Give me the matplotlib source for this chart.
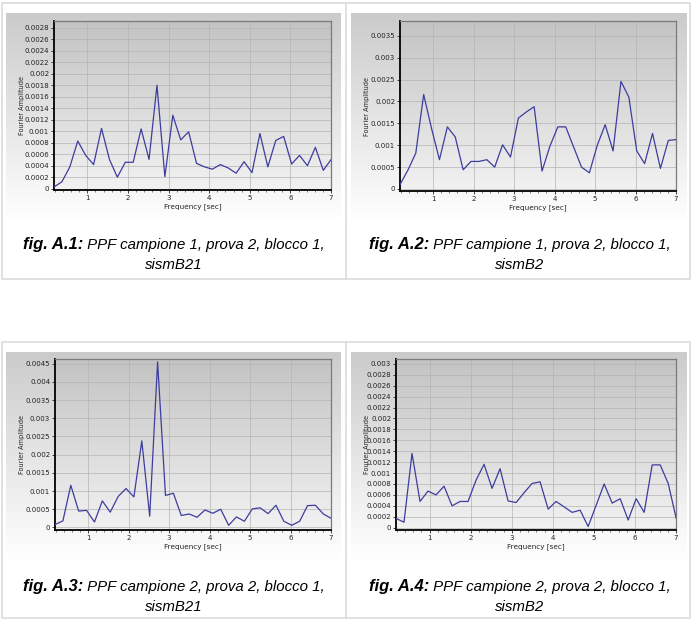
import matplotlib
matplotlib.use("Agg")
import matplotlib.pyplot as plt
import numpy as np
from matplotlib.ticker import FixedLocator, MultipleLocator
from matplotlib.patches import Rectangle
from matplotlib.lines import Line2D

# ---------------- data ----------------
freq = [0.18, 0.375, 0.57, 0.765, 0.96, 1.155, 1.35, 1.545, 1.74, 1.935, 2.13, 2.325,
        2.52, 2.715, 2.91, 3.105, 3.3, 3.495, 3.69, 3.885, 4.08, 4.275, 4.47, 4.665,
        4.86, 5.055, 5.25, 5.445, 5.64, 5.835, 6.03, 6.225, 6.42, 6.615, 6.81, 7.005]

amp_a1 = [0.00003, 0.00012, 0.00038, 0.00083, 0.00058, 0.00042, 0.00105, 0.00051, 0.00020,
          0.00046, 0.00046, 0.00104, 0.00051, 0.00180, 0.00021, 0.00128, 0.00085, 0.00099,
          0.00044, 0.00038, 0.00034, 0.00042, 0.00036, 0.00027, 0.00047, 0.00028, 0.00096,
          0.00038, 0.00084, 0.00091, 0.00043, 0.00058, 0.00040, 0.00072, 0.00032, 0.00051]
amp_a2 = [0.00010, 0.00043, 0.00082, 0.00216, 0.00138, 0.00067, 0.00142, 0.00119, 0.00044,
          0.00063, 0.00063, 0.00067, 0.00050, 0.00101, 0.00073, 0.00162, 0.00176, 0.00188,
          0.00041, 0.00098, 0.00142, 0.00142, 0.00096, 0.00050, 0.00037, 0.00100, 0.00147,
          0.00087, 0.00246, 0.00210, 0.00087, 0.00058, 0.00127, 0.00047, 0.00111, 0.00113]
amp_a3 = [0.00008, 0.00018, 0.00116, 0.00045, 0.00047, 0.00015, 0.00073, 0.00042, 0.00085,
          0.00107, 0.00084, 0.00238, 0.00031, 0.00455, 0.00088, 0.00094, 0.00033, 0.00037,
          0.00028, 0.00048, 0.00039, 0.00050, 0.00006, 0.00029, 0.00017, 0.00051, 0.00054,
          0.00038, 0.00061, 0.00017, 0.00006, 0.00017, 0.00060, 0.00061, 0.00037, 0.00025]
amp_a4 = [0.00017, 0.00010, 0.00136, 0.00048, 0.00067, 0.00060, 0.00076, 0.00040, 0.00048,
          0.00048, 0.00087, 0.00116, 0.00072, 0.00108, 0.00049, 0.00046, 0.00064, 0.00081,
          0.00084, 0.00034, 0.00048, 0.00038, 0.00028, 0.00032, 0.00002, 0.00041, 0.00080,
          0.00045, 0.00053, 0.00014, 0.00053, 0.00028, 0.00115, 0.00115, 0.00081, 0.00017]

yticks_a1 = [0, 0.0002, 0.0004, 0.0006, 0.0008, 0.001, 0.0012, 0.0014, 0.0016, 0.0018,
             0.002, 0.0022, 0.0024, 0.0026, 0.0028]
yticks_a2 = [0, 0.0005, 0.001, 0.0015, 0.002, 0.0025, 0.003, 0.0035]
yticks_a3 = [0, 0.0005, 0.001, 0.0015, 0.002, 0.0025, 0.003, 0.0035, 0.004, 0.0045]
yticks_a4 = [0, 0.0002, 0.0004, 0.0006, 0.0008, 0.001, 0.0012, 0.0014, 0.0016, 0.0018,
             0.002, 0.0022, 0.0024, 0.0026, 0.0028, 0.003]
xticks = [1, 2, 3, 4, 5, 6, 7]

captions = [("fig. A.1:", "PPF campione 1, prova 2, blocco 1,", "sismB21"),
            ("fig. A.2:", "PPF campione 1, prova 2, blocco 1,", "sismB2"),
            ("fig. A.3:", "PPF campione 2, prova 2, blocco 1,", "sismB21"),
            ("fig. A.4:", "PPF campione 2, prova 2, blocco 1,", "sismB2")]
xlabel = "Frequency [sec]"
ylabel = "Fourier Amplitude"

# ---------------- layout (pixels) ----------------
W, H = 697, 641
fig = plt.figure(figsize=(W / 100, H / 100), dpi=100)
fig.patch.set_facecolor("white")


def fx(x):
    return x / W


def fy(y):
    return 1 - y / H


def px_axes(l, t, r, b, **kw):
    return fig.add_axes([fx(l), fy(b), fx(r) - fx(l), (b - t) / H], **kw)


# table borders
bc = "#dcdcdc"
for (t, b) in [(3, 279), (342, 618)]:
    fig.add_artist(Rectangle((fx(1.5), fy(b)), fx(690) - fx(1.5), (b - t) / H,
                             transform=fig.transFigure, fill=False, ec=bc, lw=1.2))
    fig.add_artist(Line2D([fx(346), fx(346)], [fy(t), fy(b)], transform=fig.transFigure,
                          color=bc, lw=1.2))

grad = np.linspace(0, 1, 256).reshape(-1, 1)


def grad_img(c_top, c_bot):
    ct = np.array(matplotlib.colors.to_rgb(c_top))
    cb = np.array(matplotlib.colors.to_rgb(c_bot))
    return ct[None, None, :] * (1 - grad[:, :, None]) + cb[None, None, :] * grad[:, :, None]


def gradient_bg(l, t, r, b, c_top, c_bot):
    bax = px_axes(l, t, r, b)
    bax.set_axis_off()
    bax.imshow(grad_img(c_top, c_bot), aspect="auto", extent=[0, 1, 0, 1],
               interpolation="bilinear")
    bax.set_zorder(-5)
    return bax


panels = [
    # outer bg (l,t,r,b), axes (l,t,r,b), amps, yticks, ylim, ylabel x
    ((6, 13, 341, 222), (54, 21, 331, 190), amp_a1, yticks_a1, (-0.000023, 0.00292), 22),
    ((351, 13, 686, 222), (400, 21, 676, 191), amp_a2, yticks_a2, (-0.000046, 0.00384), 367),
    ((6, 352, 341, 560), (55, 359, 331, 530), amp_a3, yticks_a3, (-0.00007, 0.00463), 22),
    ((351, 352, 686, 560), (396, 359, 676, 530), amp_a4, yticks_a4, (-0.000043, 0.00309), 367),
]

line_color = "#3d3d9e"


def fmt(v):
    if v == 0:
        return "0"
    return f"{v:.4f}".rstrip("0").rstrip(".")


for (bg, axr, amps, yt, ylim, ylx) in panels:
    gradient_bg(*bg, "#cbcbcb", "#ffffff")
    ax = px_axes(*axr)
    ax.set_zorder(1)
    l, t, r, b = axr
    ax.imshow(grad_img("#c3c3c3", "#f2f2f2"), aspect="auto", extent=[0, 1, 0, 1],
              transform=ax.transAxes, interpolation="bilinear", zorder=0)
    ax.plot(freq, amps, color=line_color, lw=0.9, zorder=3)
    ax.set_xlim(freq[0], 7)
    ax.set_ylim(*ylim)
    ax.xaxis.set_major_locator(FixedLocator(xticks))
    ax.xaxis.set_minor_locator(MultipleLocator(0.2))
    ax.yaxis.set_major_locator(FixedLocator(yt))
    ax.set_xticklabels([str(v) for v in xticks])
    ax.set_yticklabels([fmt(v) for v in yt])
    ax.grid(True, which="major", color="#b4b4b4", lw=0.5, zorder=1)
    ax.set_axisbelow(True)
    ax.tick_params(axis="both", which="major", labelsize=5, length=2.5, width=0.6,
                   pad=1, colors="#222222", labelcolor="#222222")
    ax.tick_params(axis="x", which="minor", length=1.5, width=0.5, colors="#444444")
    ax.tick_params(axis="y", which="minor", length=0)
    for s in ["left", "bottom"]:
        ax.spines[s].set_color("black")
        ax.spines[s].set_linewidth(1.3)
    for s in ["top", "right"]:
        ax.spines[s].set_color("#7a7a7a")
        ax.spines[s].set_linewidth(0.9)
    ax.set_xlabel(xlabel, fontsize=5.2, labelpad=1.5, color="#222222")
    ax.set_aspect("auto")
    fig.text(fx(ylx), fy((t + b) / 2), ylabel, rotation=90, ha="center", va="center",
             fontsize=4.7, color="#222222")

# ---------------- captions ----------------
cap_family = ["Liberation Sans Narrow", "Liberation Sans", "DejaVu Sans"]
cap_pos = [(174, 245, 265), (520, 245, 265), (174, 587, 607), (520, 587, 607)]

fig.canvas.draw()
renderer = fig.canvas.get_renderer()
for (bold, rest, second), (cx, y1, y2) in zip(captions, cap_pos):
    t1 = fig.text(0, fy(y1), bold, fontsize=12, fontweight="bold", fontstyle="italic",
                  family=cap_family, ha="left", va="center")
    t2 = fig.text(0, fy(y1), " " + rest, fontsize=10.8, fontstyle="italic",
                  family=cap_family, ha="left", va="center")
    w1 = t1.get_window_extent(renderer).width
    w2 = t2.get_window_extent(renderer).width
    x0 = cx - (w1 + w2) / 2
    t1.set_x(fx(x0))
    t2.set_x(fx(x0 + w1))
    fig.text(fx(cx), fy(y2), second, fontsize=10.8, fontstyle="italic", family=cap_family,
             ha="center", va="center")

fig.savefig("out.png", dpi=100)
